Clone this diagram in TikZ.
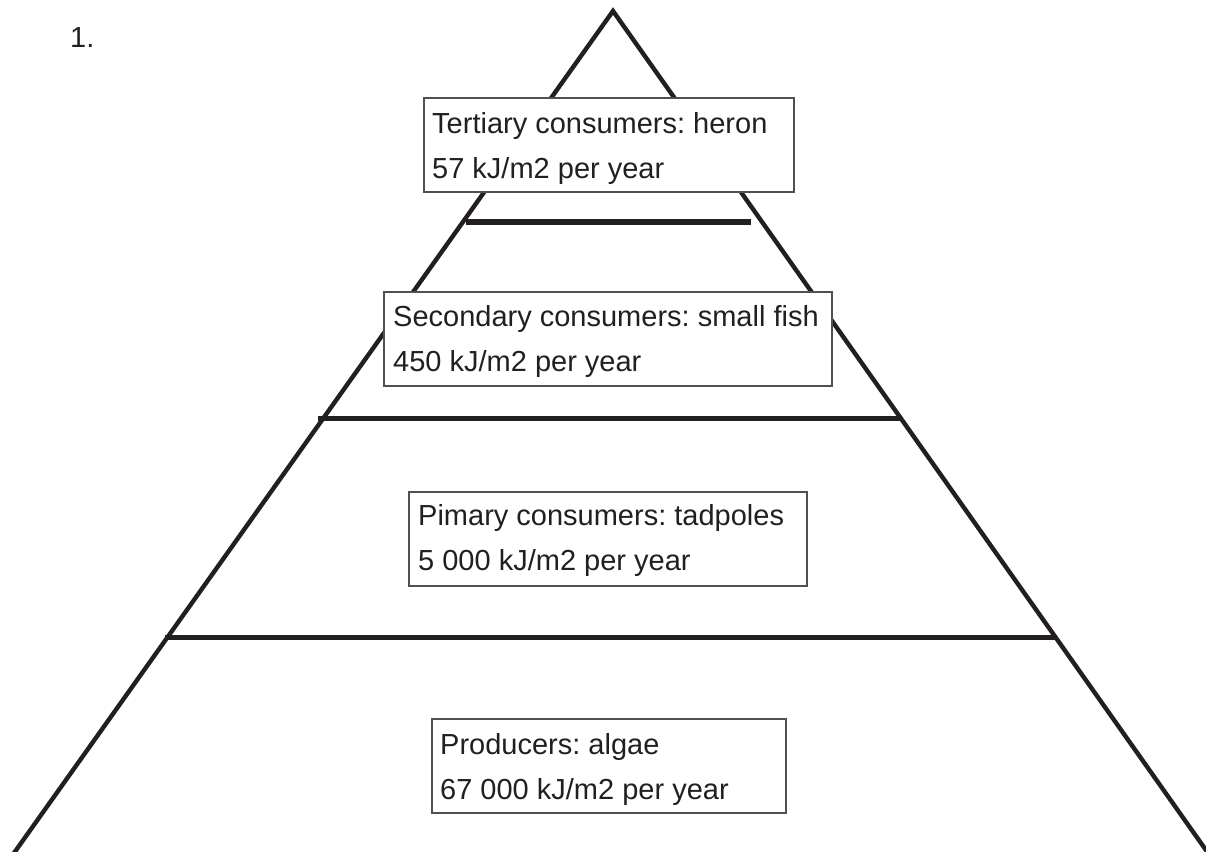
\documentclass[tikz,border=0pt]{standalone}
\usepackage{fontspec}
\setmainfont{Liberation Sans}
\frenchspacing
\definecolor{ink}{HTML}{231F20}
\definecolor{boxline}{HTML}{505050}
\begin{document}
\begin{tikzpicture}[x=1pt,y=-1pt,
  side/.style={draw=ink, line width=4.4pt, line join=miter},
  tier/.style={draw=ink, line width=5.5pt},
  box/.style={draw=boxline, line width=1.2pt, fill=white, inner sep=0pt, rectangle},
  lbl/.style={font=\fontsize{29}{45}\selectfont, text=ink, align=left, inner sep=0pt, anchor=base west}]
\useasboundingbox (0,0) rectangle (1206,851);
% pyramid outline
\coordinate (apex) at (613,11);
\coordinate (bl) at (14,853);
\coordinate (br) at (1208,853);
\draw[side] (bl) -- (apex) -- (br);
% tier lines
\coordinate (t1l) at (466,222);
\coordinate (t1r) at (751,222);
\coordinate (t2l) at (318,418.5);
\coordinate (t2r) at (902,418.5);
\coordinate (t3l) at (165,637.5);
\coordinate (t3r) at (1055,637.5);
\draw[tier] (t1l) -- (t1r);
\draw[tier] (t2l) -- (t2r);
\draw[tier] (t3l) -- (t3r);
% boxes
\node[box, minimum width=370pt, minimum height=94pt] (b3) at (609,145) {};
\node[box, minimum width=448pt, minimum height=94pt] (b2) at (608,339) {};
\node[box, minimum width=398pt, minimum height=94pt] (b1) at (608,539) {};
\node[box, minimum width=354pt, minimum height=94pt] (b0) at (609,766) {};
% labels (anchor = baseline of the last line)
\node[lbl] (l3) at (432,178) {Tertiary consumers: heron\\57 kJ/m2 per year};
\node[lbl] (l2) at (393,371.5) {Secondary consumers: small fish\\450 kJ/m2 per year};
\node[lbl] (l1) at (418,570.5) {Pimary consumers: tadpoles\\5 000 kJ/m2 per year};
\node[lbl] (l0) at (440,799) {Producers: algae\\67 000 kJ/m2 per year};
\node[lbl] (num) at (70,47.5) {1.};
\end{tikzpicture}
\end{document}
